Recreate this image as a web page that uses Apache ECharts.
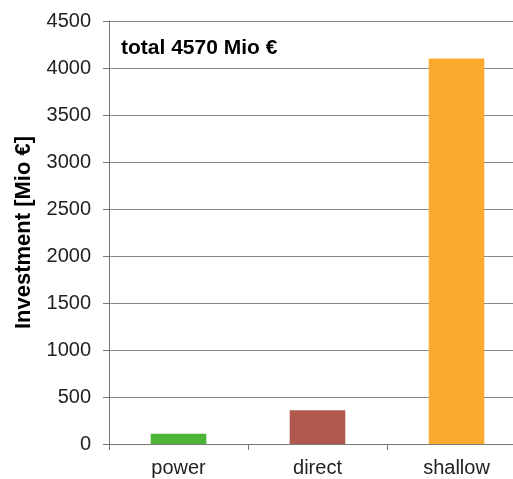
<!DOCTYPE html>
<html>
<head>
<meta charset="utf-8">
<script src="https://cdn.jsdelivr.net/npm/echarts@6/dist/echarts.min.js"></script>
<style>
  html, body { margin: 0; padding: 0; background: #fff; }
  #chart { width: 513px; height: 479px; }
</style>
</head>
<body>
<div id="chart"></div>
<script>
// Investment per geothermal use category, in million euro
var categories = ['power', 'direct', 'shallow'];
var investment = [110, 360, 4100];
var barColors = ['#4db535', '#b0584e', '#fca92f'];
var yTicks = { min: 0, max: 4500, interval: 500 };
var totalLabel = 'total 4570 Mio €';
var yAxisTitle = 'Investment [Mio €]';

var chart = echarts.init(document.getElementById('chart'));
var font = '"Liberation Sans", Arial, sans-serif';

chart.setOption({
  animation: false,
  backgroundColor: '#fff',
  title: {
    text: totalLabel,
    left: 116,
    top: 33,
    textStyle: { fontFamily: font, fontSize: 21, fontWeight: 'bold', color: '#000' }
  },
  // the plot runs a little past the right edge of the canvas
  grid: { left: 109, width: 417, top: 21, bottom: 35, outerBoundsMode: 'none', containLabel: false },
  xAxis: {
    type: 'category',
    data: categories,
    axisLine: { lineStyle: { color: '#777', width: 1 } },
    axisTick: { show: true, length: 6, inside: false, lineStyle: { color: '#777' } },
    axisLabel: { fontFamily: font, fontSize: 20, color: '#222', margin: 14 }
  },
  yAxis: {
    type: 'value',
    min: yTicks.min,
    max: yTicks.max,
    interval: yTicks.interval,
    name: yAxisTitle,
    nameLocation: 'middle',
    nameGap: 74,
    nameTextStyle: { fontFamily: font, fontSize: 22, fontWeight: 'bold', color: '#000' },
    axisLine: { show: true, lineStyle: { color: '#777', width: 1 } },
    axisTick: { show: true, length: 6, lineStyle: { color: '#777' } },
    axisLabel: {
      fontFamily: font, fontSize: 20, color: '#222', margin: 18,
      formatter: function (v) { return String(v); }
    },
    splitLine: { show: true, lineStyle: { color: '#8a8a8a', width: 1 } }
  },
  series: [{
    type: 'bar',
    data: investment.map(function (v, i) {
      return { value: v, itemStyle: { color: barColors[i] } };
    }),
    barWidth: '40%'
  }]
});
</script>
</body>
</html>
